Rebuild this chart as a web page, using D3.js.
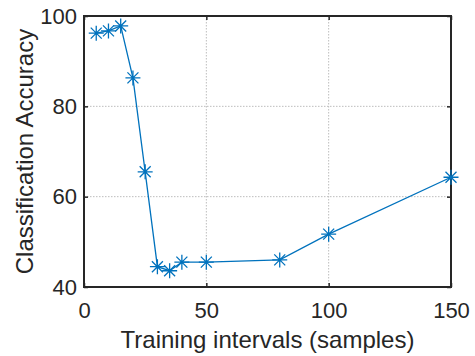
<!DOCTYPE html>
<html>
<head>
<meta charset="utf-8">
<script src="https://cdn.jsdelivr.net/npm/d3@7"></script>
<style>
  body { margin: 0; background: #fff; }
  text { font-family: "Liberation Sans", Arial, sans-serif; }
</style>
</head>
<body>
<div id="chart"></div>
<script>
var intervals = [5, 10, 15, 20, 25, 30, 35, 40, 50, 80, 100, 150];
var accuracy = [96.2, 96.7, 97.8, 86.3, 65.5, 44.5, 43.6, 45.5, 45.5, 46.0, 51.7, 64.3];
var xTicks = [0, 50, 100, 150];
var yTicks = [40, 60, 80, 100];

var width = 475, height = 356;
var margin = { top: 16, right: 24, bottom: 69, left: 84 };
var w = width - margin.left - margin.right;
var h = height - margin.top - margin.bottom;
var axisColor = "#262626";
var lineColor = "#0072BD";

var svg = d3.select("#chart").append("svg")
  .attr("width", width)
  .attr("height", height);

var g = svg.append("g")
  .attr("transform", "translate(" + margin.left + "," + margin.top + ")");

var x = d3.scaleLinear().domain([0, 150]).range([0, w]);
var y = d3.scaleLinear().domain([40, 100]).range([h, 0]);

// grid
g.selectAll(".vgrid").data(xTicks.slice(1, -1)).enter().append("line")
  .attr("x1", d => x(d)).attr("x2", d => x(d))
  .attr("y1", 0).attr("y2", h)
  .attr("stroke", "#bdbdbd").attr("stroke-width", 1)
  .attr("stroke-dasharray", "1.5,1.5");
g.selectAll(".hgrid").data(yTicks.slice(1, -1)).enter().append("line")
  .attr("y1", d => y(d)).attr("y2", d => y(d))
  .attr("x1", 0).attr("x2", w)
  .attr("stroke", "#bdbdbd").attr("stroke-width", 1)
  .attr("stroke-dasharray", "1.5,1.5");

// axes
var xAxis = d3.axisBottom(x).tickValues(xTicks).tickSizeInner(-4).tickSizeOuter(0).tickPadding(15);
var yAxis = d3.axisLeft(y).tickValues(yTicks).tickSizeInner(-4).tickSizeOuter(0).tickPadding(7);
var xTop = d3.axisTop(x).tickValues(xTicks).tickSizeInner(-4).tickSizeOuter(0).tickFormat("");
var yRight = d3.axisRight(y).tickValues(yTicks).tickSizeInner(-4).tickSizeOuter(0).tickFormat("");

var gx = g.append("g").attr("transform", "translate(0," + h + ")").call(xAxis);
var gy = g.append("g").call(yAxis);
var gt = g.append("g").call(xTop);
var gr = g.append("g").attr("transform", "translate(" + w + ",0)").call(yRight);

[gx, gy, gt, gr].forEach(function(a) {
  a.select(".domain").remove();
  a.selectAll("line").attr("stroke", axisColor).attr("stroke-width", 1.5);
  a.selectAll("text").attr("fill", axisColor).style("font-size", "22px")
    .style("font-family", "'Liberation Sans', Arial, sans-serif");
});

g.append("rect")
  .attr("x", 0).attr("y", 0).attr("width", w).attr("height", h)
  .attr("fill", "none").attr("stroke", axisColor).attr("stroke-width", 2);

// line
var pts = intervals.map((d, i) => [d, accuracy[i]]);
g.append("path").datum(pts)
  .attr("fill", "none").attr("stroke", lineColor).attr("stroke-width", 1.3)
  .attr("d", d3.line().x(d => x(d[0])).y(d => y(d[1])));

// asterisk markers
var r = 7.5, rd = 5.5;
var star = "M" + (-r) + ",0L" + r + ",0M0," + (-r) + "L0," + r +
  "M" + (-rd) + "," + (-rd) + "L" + rd + "," + rd +
  "M" + (-rd) + "," + rd + "L" + rd + "," + (-rd);
g.selectAll(".mk").data(pts).enter().append("path")
  .attr("transform", d => "translate(" + x(d[0]) + "," + y(d[1]) + ")")
  .attr("d", star)
  .attr("fill", "none").attr("stroke", lineColor).attr("stroke-width", 1.3);

// labels
svg.append("text")
  .attr("x", margin.left + w / 2).attr("y", 348)
  .attr("text-anchor", "middle").attr("fill", axisColor)
  .style("font-size", "24px")
  .text("Training intervals (samples)");

svg.append("text")
  .attr("transform", "translate(33," + (margin.top + h / 2) + ") rotate(-90)")
  .attr("text-anchor", "middle").attr("fill", axisColor)
  .style("font-size", "24px")
  .text("Classification Accuracy");
</script>
</body>
</html>
